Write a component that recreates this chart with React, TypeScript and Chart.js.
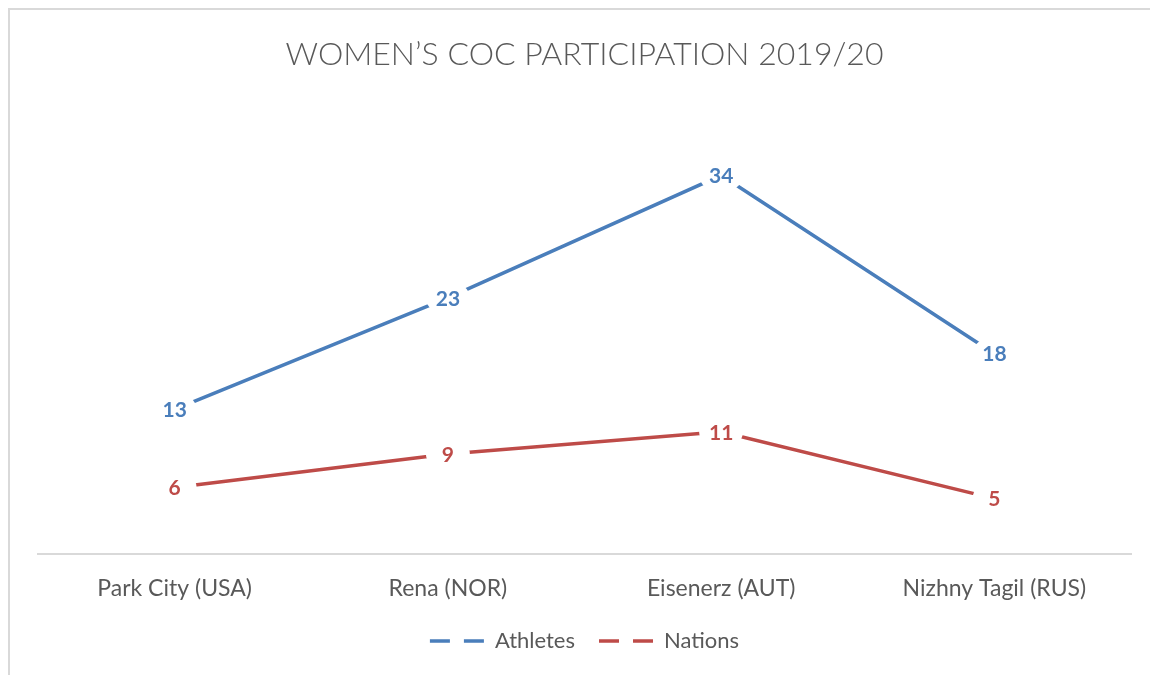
import React, { useEffect, useRef } from "react";
import { Chart, registerables } from "chart.js";

Chart.register(...registerables);

const categories = ["Park City (USA)", "Rena (NOR)", "Eisenerz (AUT)", "Nizhny Tagil (RUS)"];
const athletes = [13, 23, 34, 18];
const nations = [6, 9, 11, 5];
const titleText = "WOMEN\u2019S COC PARTICIPATION 2019/20";
const seriesNames = ["Athletes", "Nations"];
const seriesColors = ["#4a7ebb", "#be4b48"];

const FONT = "Lato";
const TEXT_COLOR = "#595959";

const labelPlugin = {
  id: "centerLabels",
  afterDatasetsDraw(chart: any) {
    const ctx = chart.ctx;
    chart.data.datasets.forEach((ds: any, i: number) => {
      const meta = chart.getDatasetMeta(i);
      meta.data.forEach((pt: any, j: number) => {
        ctx.save();
        ctx.fillStyle = "#ffffff";
        ctx.beginPath();
        ctx.ellipse(pt.x, pt.y, 22, 17, 0, 0, Math.PI * 2);
        ctx.fill();
        ctx.fillStyle = ds.borderColor;
        ctx.font = `bold 21px ${FONT}`;
        ctx.textAlign = "center";
        ctx.textBaseline = "middle";
        ctx.fillText(String(ds.data[j]), pt.x, pt.y + 1);
        ctx.restore();
      });
    });
  },
};

export default function App() {
  const ref = useRef<HTMLCanvasElement>(null);
  useEffect(() => {
    document.documentElement.style.overflow = "hidden";
    document.body.style.overflow = "hidden";
    const chart = new Chart(ref.current!, {
      type: "line",
      data: {
        labels: categories,
        datasets: [
          {
            label: seriesNames[0],
            data: athletes,
            borderColor: seriesColors[0],
            backgroundColor: seriesColors[0],
            borderWidth: 3.5,
            pointRadius: 0,
            tension: 0,
          },
          {
            label: seriesNames[1],
            data: nations,
            borderColor: seriesColors[1],
            backgroundColor: seriesColors[1],
            borderWidth: 3.5,
            pointRadius: 0,
            tension: 0,
          },
        ],
      },
      options: {
        responsive: false,
        animation: false,
        layout: { padding: { left: 28, right: 29, top: 0, bottom: 13 } },
        scales: {
          x: {
            offset: true,
            grid: { display: false, drawTicks: false },
            border: { display: true, color: "#d9d9d9", width: 2 },
            ticks: {
              color: TEXT_COLOR,
              font: { family: FONT, size: 23 },
              padding: 20,
              maxRotation: 0,
            },
            afterFit: (scale: any) => {
              scale.height -= 16;
            },
          },
          y: {
            display: false,
            min: 0,
            max: 40,
          },
        },
        plugins: {
          title: {
            display: true,
            text: titleText,
            color: TEXT_COLOR,
            font: { family: FONT, size: 32, weight: "300" as any, lineHeight: 1.2 },
            padding: { top: 25, bottom: 35 },
          },
          legend: {
            position: "bottom",
            labels: {
              color: TEXT_COLOR,
              font: { family: FONT, size: 22 },
              usePointStyle: true,
              pointStyleWidth: 54,
              padding: 24,
              generateLabels: (chart: any) =>
                chart.data.datasets.map((ds: any, i: number) => ({
                  text: ds.label,
                  fillStyle: ds.borderColor,
                  strokeStyle: ds.borderColor,
                  lineWidth: 3.5,
                  lineDash: [20, 14],
                  lineCap: "butt",
                  pointStyle: "line",
                  fontColor: TEXT_COLOR,
                  hidden: false,
                  datasetIndex: i,
                })),
            },
          },
          tooltip: { enabled: false },
        },
      },
      plugins: [labelPlugin],
    });
    return () => chart.destroy();
  }, []);
  return (
    <div
      style={{
        width: 1152,
        height: 667,
        borderLeft: "2px solid #d9d9d9",
        borderTop: "2px solid #d9d9d9",
        boxSizing: "border-box",
        background: "#ffffff",
      }}
    >
      <canvas ref={ref} width={1150} height={665} style={{ display: "block" }} />
    </div>
  );
}
